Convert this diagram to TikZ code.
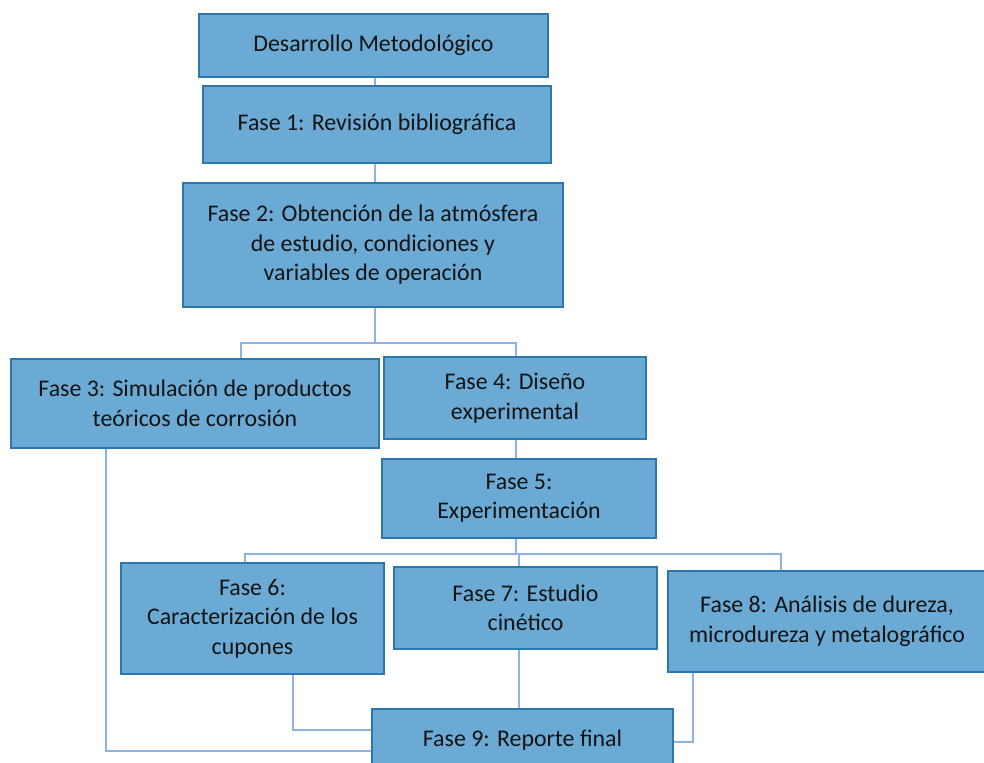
\documentclass[tikz,border=0pt]{standalone}
\usepackage{fontspec}
\setmainfont{Carlito}
\usetikzlibrary{calc}

\definecolor{boxfill}{RGB}{107,170,212}
\definecolor{boxline}{RGB}{44,120,172}
\definecolor{linkc}{RGB}{141,179,226}
\definecolor{textc}{RGB}{20,20,20}

\tikzset{
  fase/.style={draw=boxline, line width=0.8pt, fill=boxfill, text=textc,
    align=center, inner sep=0pt, font=\fontsize{13.6}{16.8}\selectfont},
  wh/.style 2 args={minimum width=#1*0.02cm, minimum height=#2*0.02cm},
  link/.style={draw=linkc, line width=1.1pt}
}

\begin{document}
\begin{tikzpicture}[x=0.02cm, y=-0.02cm]
\useasboundingbox (0,0) rectangle (984,763);
\clip (0,0) rectangle (984,763);

\node[fase, wh={349}{63}] (dm) at (373.5,45.5) {Desarrollo Metodológico};
\node[fase, wh={348}{77}] (f1) at (377,124.5) {Fase 1: Revisión bibliográfica};
\node[fase, wh={380}{124}] (f2) at (373,245) {Fase 2: Obtención de la atmósfera\\de estudio, condiciones y\\variables de operación};

\node[fase, wh={368}{89}] (f3) at (195,403.5) {Fase 3: Simulación de productos\\teóricos de corrosión};
\node[fase, wh={262}{82}] (f4) at (515,398) {Fase 4: Diseño\\experimental};
\node[fase, wh={274}{79}] (f5) at (519,498.5) {Fase 5:\\Experimentación};

\node[fase, wh={263}{111}] (f6) at (252.5,618.5) {Fase 6:\\Caracterización de los\\cupones};
\node[fase, wh={263}{82}] (f7) at (525.5,608) {Fase 7: Estudio\\cinético};
\node[fase, wh={318}{101}] (f8) at (827,621.5) {Fase 8: Análisis de dureza,\\microdureza y metalográfico};
\node[fase, wh={301}{62}] (f9) at (522.5,740) {Fase 9: Reporte final};

% junctions
\coordinate (j1) at (375,343);
\coordinate (a3) at (241,343);
\coordinate (a4) at (516,343);
\coordinate (j2) at (516,554);
\coordinate (a6) at (245,554);
\coordinate (a7) at (519,554);
\coordinate (a8) at (781,554);
\coordinate (b3) at (106,751);
\coordinate (b6) at (293,730);
\coordinate (b8) at (693,742);

\draw[link] (dm.south -| j1) -- (f1.north -| j1);
\draw[link] (f1.south -| j1) -- (f2.north -| j1);
\draw[link] (f2.south -| j1) -- (j1);
\draw[link] (f3.north -| a3) |- (a4) -- (f4.north -| a4);
\draw[link] (f4.south -| a4) -- (f5.north -| a4);

\draw[link] (f5.south -| j2) -- (j2);
\draw[link] (f6.north -| a6) |- (a8) -- (f8.north -| a8);
\draw[link] (a7) -- (f7.north -| a7);

\draw[link] (f3.south -| b3) |- (f9.west |- b3);
\draw[link] (f6.south -| b6) |- (f9.west |- b6);
\draw[link] (f7.south -| a7) -- (f9.north -| a7);
\draw[link] (f8.south -| b8) |- (f9.east |- b8);
\end{tikzpicture}
\end{document}
